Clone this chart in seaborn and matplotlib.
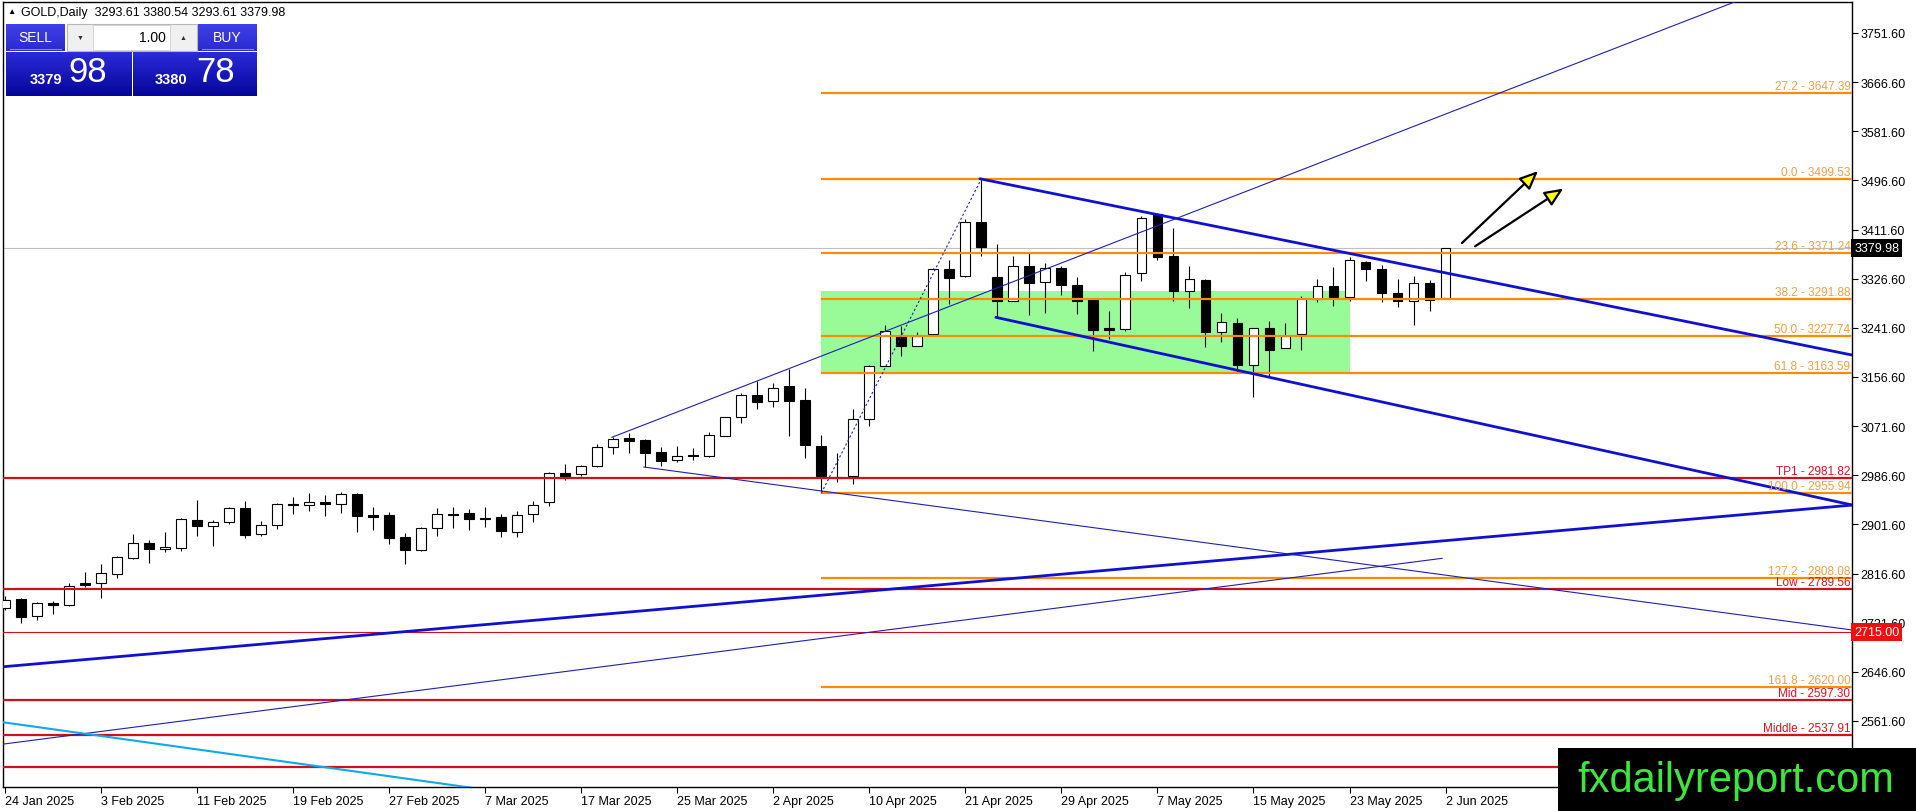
import numpy as np
import pandas as pd
import matplotlib
matplotlib.use("Agg")
import matplotlib.pyplot as plt
import matplotlib.transforms as mtransforms
from matplotlib.patches import Rectangle, FancyArrowPatch
from matplotlib.colors import LinearSegmentedColormap
import seaborn as sns

# daily candles, 24 Jan 2025 .. 2 Jun 2025
opens = [2756.4, 2772.6, 2742.6, 2765.7, 2761.6, 2800.3, 2799.7, 2815.2, 2842.9, 2868.9,
         2858.5, 2861.4, 2908.7, 2898.3, 2905.2, 2929.4, 2884.4, 2900.0, 2936.3, 2934.6,
         2939.8, 2936.3, 2953.6, 2917.3, 2917.9, 2879.2, 2857.9, 2894.8, 2920.2, 2920.8,
         2912.7, 2914.4, 2887.9, 2919.0, 2939.8, 2990.5, 2989.4, 3002.0, 3034.9, 3050.5,
         3047.6, 3026.3, 3012.4, 3021.7, 3020.5, 3055.1, 3088.0, 3124.9, 3114.5, 3140.4,
         3116.8, 3037.2, 2984.0, 2985.9, 3083.9, 3176.2, 3228.1, 3210.8, 3230.9, 3343.4,
         3330.7, 3424.1, 3328.9, 3288.6, 3349.1, 3321.5, 3344.5, 3316.3, 3289.8, 3240.7,
         3239.6, 3335.9, 3438.5, 3365.3, 3304.8, 3324.4, 3235.0, 3250.0, 3177.9, 3240.7,
         3206.2, 3230.4, 3291.5, 3314.6, 3295.5, 3354.9, 3343.4, 3301.3, 3287.5, 3318.6,
         3293.61]
highs = [2778.3, 2774.3, 2768.0, 2769.1, 2799.7, 2818.7, 2832.5, 2846.4, 2884.4, 2874.6,
         2887.9, 2913.3, 2943.8, 2909.8, 2931.2, 2941.5, 2906.9, 2938.6, 2948.4, 2955.9,
         2952.5, 2958.2, 2955.9, 2931.2, 2922.5, 2886.7, 2896.5, 2929.4, 2931.2, 2928.3,
         2931.2, 2919.6, 2924.8, 2942.7, 2991.7, 3006.1, 3004.9, 3040.1, 3052.2, 3059.1,
         3049.3, 3035.5, 3037.2, 3033.8, 3061.4, 3087.4, 3128.3, 3149.1, 3145.6, 3170.4,
         3137.0, 3056.2, 3025.1, 3101.2, 3177.3, 3247.1, 3245.4, 3233.8, 3344.5, 3358.9,
         3429.9, 3499.5, 3386.6, 3366.4, 3370.5, 3353.2, 3348.0, 3329.0, 3290.9, 3270.2,
         3337.6, 3434.5, 3440.0, 3413.7, 3348.0, 3326.1, 3267.3, 3258.0, 3240.7, 3252.9,
         3250.0, 3296.1, 3326.1, 3346.3, 3364.7, 3357.8, 3350.3, 3326.1, 3330.7, 3324.9,
         3380.54]
lows = [2754.1, 2731.7, 2736.8, 2746.0, 2760.5, 2792.8, 2773.7, 2808.3, 2841.2, 2835.4,
        2853.3, 2856.2, 2882.1, 2864.8, 2901.7, 2878.7, 2881.0, 2893.1, 2919.6, 2925.4,
        2916.7, 2921.9, 2889.1, 2892.5, 2868.3, 2833.7, 2856.2, 2882.1, 2896.0, 2892.5,
        2897.7, 2880.4, 2880.4, 2906.3, 2934.0, 2979.0, 2985.9, 3000.3, 3024.0, 3025.7,
        3000.9, 3003.2, 3009.0, 3013.6, 3018.8, 3054.5, 3077.6, 3101.2, 3104.7, 3055.1,
        3017.0, 2955.9, 2975.5, 2970.9, 3072.4, 3176.2, 3193.5, 3210.8, 3230.9, 3282.8,
        3328.9, 3366.4, 3259.8, 3288.6, 3264.4, 3267.3, 3299.0, 3265.6, 3202.1, 3222.3,
        3236.7, 3323.2, 3359.5, 3288.6, 3275.4, 3207.9, 3216.5, 3167.5, 3121.4, 3157.7,
        3206.2, 3203.9, 3285.7, 3278.8, 3287.5, 3323.2, 3285.7, 3277.1, 3246.5, 3271.3,
        3293.61]
closes = [2771.4, 2742.0, 2765.1, 2761.6, 2795.7, 2796.8, 2817.0, 2844.7, 2868.9, 2858.5,
          2862.5, 2910.4, 2898.3, 2905.2, 2929.4, 2883.9, 2900.0, 2936.9, 2934.6, 2939.8,
          2936.3, 2953.6, 2916.7, 2915.0, 2878.7, 2857.9, 2895.4, 2919.0, 2918.4, 2911.5,
          2910.4, 2890.8, 2917.3, 2934.6, 2990.5, 2984.8, 3002.6, 3035.5, 3049.3, 3045.3,
          3024.5, 3011.9, 3020.5, 3020.5, 3056.8, 3086.8, 3124.9, 3113.9, 3137.0, 3115.6,
          3039.5, 2985.9, 2982.5, 3083.9, 3176.2, 3236.7, 3210.8, 3228.1, 3343.4, 3327.2,
          3424.1, 3380.9, 3288.6, 3349.1, 3319.2, 3344.5, 3315.7, 3288.6, 3238.4, 3238.4,
          3333.6, 3431.0, 3364.7, 3305.9, 3326.1, 3235.0, 3251.1, 3177.9, 3240.7, 3203.9,
          3228.1, 3291.5, 3314.6, 3294.9, 3358.9, 3342.8, 3301.3, 3287.5, 3318.6, 3289.8,
          3379.98]

date_labels = ["24 Jan 2025", "3 Feb 2025", "11 Feb 2025", "19 Feb 2025", "27 Feb 2025",
               "7 Mar 2025", "17 Mar 2025", "25 Mar 2025", "2 Apr 2025", "10 Apr 2025",
               "21 Apr 2025", "29 Apr 2025", "7 May 2025", "15 May 2025", "23 May 2025",
               "2 Jun 2025"]
price_ticks = [3751.60, 3666.60, 3581.60, 3496.60, 3411.60, 3326.60, 3241.60, 3156.60,
               3071.60, 2986.60, 2901.60, 2816.60, 2731.60, 2646.60, 2561.60]

fib_levels = [3647.39, 3499.53, 3371.24, 3291.88, 3227.74, 3163.59, 2955.94, 2808.08, 2620.00]
fib_names = ["27.2", "0.0", "23.6", "38.2", "50.0", "61.8", "100.0", "127.2", "161.8"]

red_levels = [2981.82, 2789.56, 2597.30, 2537.91, 2482.5]
red_names = ["TP1", "Low", "Mid", "Middle", None]
stop_level = 2715.00
last_price = 3379.98

# trend lines: (bar, price) start and end
thick_lines = [((60.9, 3499.5), (115.4, 3194.6)),
               ((61.9, 3259.8), (115.4, 2935.2)),
               ((-0.3, 2655.0), (115.4, 2935.0))]
thin_lines = [((37.9, 3052.2), (115.4, 3884.0)),
              ((39.9, 3000.9), (115.4, 2719.0)),
              ((-0.3, 2521.0), (89.8, 2843.0))]
cyan_line = ((-0.3, 2560.0), (30.2, 2442.0))
fib_anchor = ((51, 2955.94), (61, 3499.53))
green_zone = (51, 84, 3166.0, 3305.0)
arrows = [((90.9, 3385.0), (95.9, 3516.0)),
          ((91.7, 3380.0), (97.5, 3485.0))]

W, H = 1916, 812
sns.set_theme(style="white")
plt.rcParams['font.family'] = ['Liberation Sans', 'DejaVu Sans']

fig = plt.figure(figsize=(W / 100, H / 100), dpi=100)
fig.patch.set_facecolor("white")
ax = fig.add_axes([3 / W, 1 - 788 / H, (1852 - 3) / W, (788 - 3) / H])
ax.set_facecolor("white")
x0, x1 = -0.14, 115.4
y0, y1 = 2447.4, 3805.2
ax.set_xlim(x0, x1)
ax.set_ylim(y0, y1)

df = pd.DataFrame({"open": opens, "high": highs, "low": lows, "close": closes})
df["bar"] = np.arange(len(df))
up = df["close"] >= df["open"]

# green zone
ax.add_patch(Rectangle((green_zone[0], green_zone[2]), green_zone[1] - green_zone[0],
                       green_zone[3] - green_zone[2], facecolor="#98FB98", edgecolor="none", zorder=0.5))

# candles
ax.vlines(df["bar"], df["low"], df["high"], color="black", lw=0.8, zorder=3)
bottoms = df[["open", "close"]].min(axis=1)
heights = (df["close"] - df["open"]).abs().clip(lower=1.8)
ax.bar(df["bar"][up], heights[up], bottom=bottoms[up], width=0.62,
       facecolor="white", edgecolor="black", linewidth=0.8, zorder=3.2)
ax.bar(df["bar"][~up], heights[~up], bottom=bottoms[~up], width=0.62,
       facecolor="black", edgecolor="black", linewidth=0.8, zorder=3.2)

# current price line
ax.axhline(last_price, color="#C0C0C0", lw=0.8, zorder=1)

# fibonacci levels
for lvl, name in zip(fib_levels, fib_names):
    ax.hlines(lvl, fib_anchor[0][0], x1, color="#FF8C00", lw=1.6, zorder=4)
    ax.text(x1 - 0.1, lvl + 2, f"{name} - {lvl:.2f}", ha="right", va="bottom",
            color="#F0A040", fontsize=8.5, zorder=5)

# red levels
for lvl, name in zip(red_levels, red_names):
    ax.axhline(lvl, color="#D0101A", lw=1.6, zorder=4)
    if name:
        ax.text(x1 - 0.1, lvl + 2, f"{name} - {lvl:.2f}", ha="right", va="bottom",
                color="#E01020", fontsize=8.5, zorder=5)
ax.axhline(stop_level, color="#D0101A", lw=0.8, zorder=4)

# trend lines
def seg(p, color, lw, ls="-"):
    d = pd.DataFrame({"x": [p[0][0], p[1][0]], "y": [p[0][1], p[1][1]]})
    sns.lineplot(data=d, x="x", y="y", ax=ax, color=color, lw=lw, linestyle=ls,
                 estimator=None, sort=False, zorder=4.5)

for p in thick_lines:
    seg(p, "#1010D0", 2.0)
for p in thin_lines:
    seg(p, "#2020B0", 0.8)
seg(cyan_line, "#10A8E8", 1.5)
seg(fib_anchor, "#2020B0", 0.8, (0, (2, 2)))
ax.set_xlabel("")
ax.set_ylabel("")

# arrows
for a, b in arrows:
    ax.add_patch(FancyArrowPatch(a, b, arrowstyle="-|>,head_length=0.8,head_width=0.35",
                                 mutation_scale=14, facecolor="#FFFF00", edgecolor="black",
                                 lw=1.6, zorder=6))

# axes
for s in ax.spines.values():
    s.set_color("black")
    s.set_linewidth(1)
ax.yaxis.tick_right()
ax.set_yticks(price_ticks)
ax.set_yticklabels([f"{v:.2f}" for v in price_ticks])
ax.set_xticks(np.arange(0, len(opens), 6))
ax.set_xticklabels(date_labels, ha="left")
ax.tick_params(axis="y", right=True, left=False, direction="out", length=4, width=0.8,
               pad=2, labelsize=9, colors="black")
ax.tick_params(axis="x", bottom=True, direction="out", length=4, width=0.8,
               pad=2, labelsize=9, colors="black")
ax.grid(False)

blend = mtransforms.blended_transform_factory(ax.transAxes, ax.transData)
ax.text(1.0012, last_price, f"{last_price:.2f}", transform=blend, ha="left", va="center",
        color="white", fontsize=9, zorder=10, clip_on=False,
        bbox=dict(facecolor="black", edgecolor="none", pad=2.2))
ax.text(1.0012, stop_level, f"{stop_level:.2f}", transform=blend, ha="left", va="center",
        color="white", fontsize=9, zorder=10, clip_on=False,
        bbox=dict(facecolor="#EE1010", edgecolor="none", pad=2.2))

# header text
fig.text(7 / W, 1 - 13 / H, "▲", fontsize=6, va="center", ha="left", color="black")
fig.text(21 / W, 1 - 13 / H, "GOLD,Daily  3293.61 3380.54 3293.61 3379.98",
         fontsize=9, va="center", ha="left", color="black")

# one-click trading panel
def px_axes(x, y, w, h):
    a = fig.add_axes([x / W, 1 - (y + h) / H, w / W, h / H])
    a.set_axis_off()
    return a

def gradient(x, y, w, h, top, bottom):
    a = px_axes(x, y, w, h)
    cmap = LinearSegmentedColormap.from_list("g", [top, bottom])
    a.imshow(np.linspace(0, 1, 50).reshape(-1, 1), aspect="auto", cmap=cmap,
             extent=(0, 1, 0, 1), origin="upper")
    a.set_xlim(0, 1)
    a.set_ylim(0, 1)
    return a

def ptext(x, y, s, **kw):
    fig.text(x / W, 1 - y / H, s, ha="center", va="center", **kw)

gradient(6, 25, 59, 27, "#4040E8", "#2A2AD0")
gradient(198, 25, 59, 27, "#4040E8", "#2A2AD0")
gradient(6, 53, 125, 44, "#2A2AD8", "#06069A")
gradient(133, 53, 124, 44, "#2A2AD8", "#06069A")
fig.add_artist(Rectangle((67 / W, 1 - 52 / H), 130 / W, 27 / H, transform=fig.transFigure,
                         facecolor="#F0F0F0", edgecolor="#B8B8B8", lw=0.8))
fig.add_artist(Rectangle((93 / W, 1 - 51 / H), 77 / W, 25 / H, transform=fig.transFigure,
                         facecolor="white", edgecolor="#D0D0D0", lw=0.6))
for lx in (10, 202):
    fig.add_artist(Rectangle((lx / W, 1 - 51 / H), 52 / W, 1 / H, transform=fig.transFigure,
                             facecolor="#8A8AF0", edgecolor="none"))
ptext(35, 38, "SELL", color="white", fontsize=10)
ptext(227, 38, "BUY", color="white", fontsize=10)
ptext(80, 38, "▼", color="#303030", fontsize=5)
ptext(183, 38, "▲", color="#303030", fontsize=5)
fig.text(166 / W, 1 - 38 / H, "1.00", ha="right", va="center", color="black", fontsize=10)
ptext(46, 80, "3379", color="white", fontsize=10.5, fontweight="bold")
ptext(88, 73, "98", color="white", fontsize=25)
ptext(171, 80, "3380", color="white", fontsize=10.5, fontweight="bold")
ptext(216, 73, "78", color="white", fontsize=25)

# watermark
fig.add_artist(Rectangle((1558 / W, 0), (W - 1558) / W, (812 - 749) / H,
                         transform=fig.transFigure, facecolor="black", edgecolor="none", zorder=20))
fig.text(1736 / W, 1 - 781 / H, "fxdailyreport.com", ha="center", va="center",
         color="#3CE63C", fontsize=30, zorder=21)

fig.savefig("out.png", dpi=100, facecolor="white")
